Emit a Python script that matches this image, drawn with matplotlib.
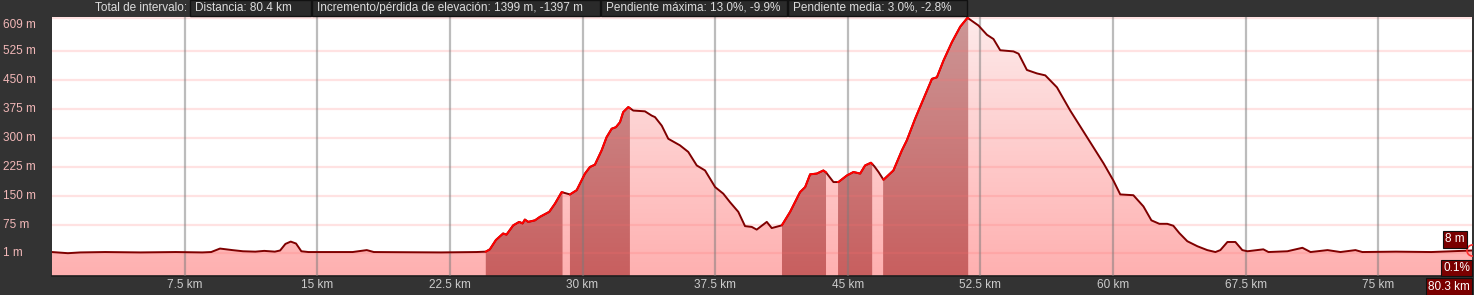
import numpy as np
import matplotlib
matplotlib.use("Agg")
import matplotlib.pyplot as plt
from matplotlib.patches import PathPatch, Rectangle
from matplotlib.colors import LinearSegmentedColormap
import matplotlib.transforms as mtrans

# ---------------- data ----------------
dist_km = [0.0, 0.9, 1.6, 3.0, 5.0, 7.0, 8.5, 9.0, 9.5, 10.2, 10.8, 11.5, 12.0, 12.6, 12.9,
           13.2, 13.5, 13.8, 14.1, 14.5, 17.0, 17.8, 18.2, 22.0, 24.0, 24.53,
           24.76, 25.1, 25.51, 25.7, 26.08, 26.42, 26.61, 26.74, 26.93, 27.31, 27.59, 28.12,
           28.44, 28.82, 29.29, 29.67, 30.14, 30.42, 30.7, 31.08, 31.36, 31.65, 31.89, 32.12,
           32.3, 32.59, 32.87, 33.53, 33.91, 34.1, 34.48, 34.85, 35.51, 35.98, 36.46, 36.93,
           37.5, 37.96, 38.34, 38.81, 39.19, 39.57, 39.85, 40.42, 40.7, 41.27, 41.74, 42.3,
           42.59, 42.87, 43.25, 43.62, 43.77, 44.19, 44.47, 44.95, 45.32, 45.7, 45.98, 46.31,
           46.5, 46.74, 47.02, 47.58, 48.06, 48.34, 48.81, 49.28, 49.76, 50.04, 50.41, 50.89,
           51.36, 51.77, 52.39, 52.87, 53.24, 53.62, 54.37, 54.66, 55.13, 55.7, 56.17, 56.83,
           57.58, 58.53, 59.47, 60.02, 60.41, 61.15, 61.72, 62.17, 62.62, 63.07, 63.41, 63.75,
           64.2, 64.77, 65.33, 65.79, 66.07, 66.47, 66.92, 67.31, 67.6, 68.5, 68.79, 69.86,
           70.71, 71.17, 72.13, 72.86, 73.71, 74.1, 76.0, 78.0, 80.3]
elev_m = [4, 1, 3, 4, 3, 4, 3, 4, 13, 9, 6, 5, 7, 5, 8,
          25, 31, 26, 6, 4, 4, 9, 4, 3, 4, 5,
          11, 35, 52, 49, 73, 82, 78, 88, 82, 86, 95, 108,
          129, 159, 153, 164, 207, 224, 230, 267, 301, 323, 327, 340,
          366, 379, 370, 368, 357, 353, 331, 297, 280, 263, 228, 215,
          172, 155, 133, 108, 71, 69, 62, 82, 66, 73, 108, 159,
          172, 205, 207, 215, 210, 185, 185, 202, 211, 207, 228, 235,
          226, 211, 191, 215, 267, 293, 349, 400, 452, 456, 499, 547,
          587, 610, 590, 566, 555, 526, 523, 517, 475, 466, 461, 430,
          370, 301, 233, 189, 153, 151, 122, 86, 77, 77, 72, 53,
          32, 19, 9, 4, 9, 30, 30, 9, 6, 11, 4, 6,
          15, 4, 9, 4, 9, 4, 5, 4, 8]

climb_start = [24.53, 29.29, 41.28, 44.45, 47.0]
climb_end = [28.87, 32.68, 43.77, 46.38, 51.81]

x_ticks = [7.5, 15, 22.5, 30, 37.5, 45, 52.5, 60, 67.5, 75]
x_tick_labels = ["7.5 km", "15 km", "22.5 km", "30 km", "37.5 km", "45 km",
                 "52.5 km", "60 km", "67.5 km", "75 km"]
y_ticks = [1, 75, 150, 225, 300, 375, 450, 525, 609]
y_tick_labels = ["1 m", "75 m", "150 m", "225 m", "300 m", "375 m", "450 m", "525 m", "609 m"]

summary_title = "Total de intervalo:"
summary_items = ["Distancia: 80.4 km",
                 "Incremento/pérdida de elevación: 1399 m, -1397 m",
                 "Pendiente máxima: 13.0%, -9.9%",
                 "Pendiente media: 3.0%, -2.8%"]
end_elev_label = "8 m"
end_slope_label = "0.1%"
end_dist_label = "80.3 km"

# ---------------- figure ----------------
W, H = 1474, 295
BG = "#333333"
plt.rcParams['font.family'] = ['Liberation Sans', 'DejaVu Sans']
fig = plt.figure(figsize=(W / 100, H / 100), dpi=100, facecolor=BG)
L, R, T, B = 52, 1472, 17, 276
ax = fig.add_axes([L / W, (H - B) / H, (R - L) / W, (B - T) / H])
ax.set_facecolor("white")
YMIN, YMAX = -58, 612
XMAX = dist_km[-1]
ax.set_xlim(0, XMAX)
ax.set_ylim(YMIN, YMAX)

x = np.array(dist_km, float)
y = np.array(elev_m, float)

grad = np.linspace(0, 1, 256).reshape(-1, 1)
cm_light = LinearSegmentedColormap.from_list("light", ["#ffb0b0", "#fdeaea"])
cm_dark = LinearSegmentedColormap.from_list("dark", ["#c85f5f", "#cc9696"])


def clipped_gradient(xs, ys, cmap, z):
    pc = ax.fill_between(xs, ys, YMIN, color="none", lw=0)
    path = pc.get_paths()[0]
    patch = PathPatch(path, transform=ax.transData, facecolor="none", edgecolor="none")
    ax.add_patch(patch)
    im = ax.imshow(grad, extent=[0, XMAX, YMIN, YMAX], origin="lower", cmap=cmap,
                   aspect="auto", zorder=z, interpolation="bilinear")
    im.set_clip_path(patch)


clipped_gradient(x, y, cm_light, 1)

band_segments = []
for a, b in zip(climb_start, climb_end):
    inside = (x > a) & (x < b)
    xs = np.concatenate([[a], x[inside], [b]])
    ys = np.concatenate([[np.interp(a, x, y)], y[inside], [np.interp(b, x, y)]])
    clipped_gradient(xs, ys, cm_dark, 2)
    band_segments.append((xs, ys))

# grid lines on top of fill
for v in y_ticks:
    ax.axhline(v, color="#ff7070", alpha=0.2, lw=1.6, zorder=3)
for v in x_ticks:
    ax.axvline(v, color="#7a7a7a", alpha=0.5, lw=1.6, zorder=3)

# profile line
ax.plot(x, y, color="#7f0000", lw=1.4, zorder=4, solid_joinstyle="round")
for xs, ys in band_segments:
    ax.plot(xs, ys, color="#ff0000", lw=1.4, zorder=5, solid_joinstyle="round")
ax.plot([x[-1]], [y[-1]], marker="o", ms=8, mfc="none", mec="#ff3030", mew=1.2,
        zorder=6, clip_on=True)

ax.set_xticks([])
ax.set_yticks([])
for s in ax.spines.values():
    s.set_visible(False)
ax.spines["bottom"].set_visible(True)
ax.spines["bottom"].set_color("#1e1e1e")
ax.spines["bottom"].set_linewidth(1.2)

# y labels
ytrans = mtrans.blended_transform_factory(fig.transFigure, ax.transData)
for v, lab in zip(y_ticks, y_tick_labels):
    tr = ytrans
    if v == y_ticks[-1]:
        tr = ytrans + mtrans.ScaledTranslation(0, -6.5 / 100, fig.dpi_scale_trans)
    fig.text(3 / W, v, lab, transform=tr, ha="left", va="center",
             color="#f2b8b8", fontsize=8.5)

# x labels
xtrans = mtrans.blended_transform_factory(ax.transData, fig.transFigure)
for v, lab in zip(x_ticks, x_tick_labels):
    fig.text(v, 1 - 285.5 / H, lab, transform=xtrans, ha="center", va="center",
             color="#cccccc", fontsize=8.5)

# end labels
def box_label(xr, yc, text):
    fig.text(xr / W, 1 - yc / H, text, ha="right", va="center", color="white",
             fontsize=8.5,
             bbox=dict(boxstyle="square,pad=0.18", fc="#7a0000", ec="#111111", lw=0.8))

box_label(1465, 239.5, end_elev_label)
box_label(1470, 268, end_slope_label)
box_label(1470, 286.5, end_dist_label)

# summary bar
fig.text(187 / W, 1 - 8 / H, summary_title, ha="right", va="center",
         color="#dddddd", fontsize=8.5)
box_edges = [190, 312, 601, 788, 968]
for i, item in enumerate(summary_items):
    x0, x1 = box_edges[i], box_edges[i + 1] - 1
    fig.patches.append(Rectangle((x0 / W, 1 - 15.5 / H), (x1 - x0) / W, 15.5 / H,
                                 transform=fig.transFigure, fc="#2a2a2a",
                                 ec="#111111", lw=1.0))
    fig.text((x0 + 5) / W, 1 - 8 / H, item, ha="left", va="center",
             color="#dddddd", fontsize=8.5)

fig.savefig("out.png", dpi=100, facecolor=BG)
